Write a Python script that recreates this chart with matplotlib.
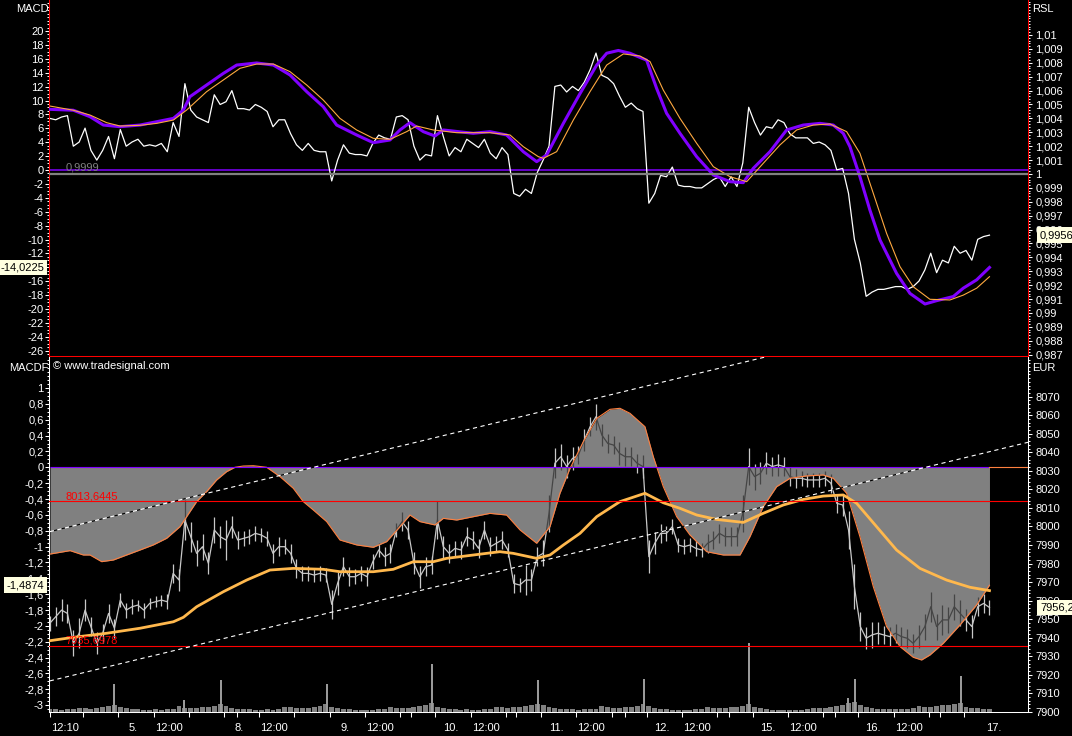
import numpy as np
import matplotlib
matplotlib.use("Agg")
import matplotlib.pyplot as plt
import matplotlib.transforms as mtransforms
from matplotlib.ticker import FixedLocator, MultipleLocator, FuncFormatter

plt.rcParams['font.family'] = ['Liberation Sans', 'DejaVu Sans']
plt.rcParams['font.size'] = 8
plt.rcParams['lines.scale_dashes'] = False

# time axis: trading hours counted from the 4th 09:00, 9 hours per session
t_first = 3.17          # 4th, 12:10
t_step = 0.5
n_bars = 161

# RSL (white line, right axis of the upper pane)
rsl = [1.0040, 1.0039, 1.0041, 1.0042, 1.0020, 1.0023, 1.0033, 1.0017, 1.0010, 1.0017,
       1.0027, 1.0011, 1.0032, 1.0020, 1.0023, 1.0025, 1.0020, 1.0021, 1.0020, 1.0022,
       1.0016, 1.0037, 1.0027, 1.0065, 1.0046, 1.0041, 1.0039, 1.0037, 1.0057, 1.0050,
       1.0052, 1.0060, 1.0047, 1.0047, 1.0046, 1.0050, 1.0048, 1.0045, 1.0034, 1.0039,
       1.0039, 1.0029, 1.0021, 1.0017, 1.0022, 1.0017, 1.0016, 1.0016, 0.9995, 1.0010,
       1.0021, 1.0015, 1.0014, 1.0014, 1.0013, 1.0022, 1.0028, 1.0026, 1.0025, 1.0041,
       1.0042, 1.0039, 1.0020, 1.0010, 1.0014, 1.0013, 1.0042, 1.0027, 1.0013, 1.0019,
       1.0016, 1.0025, 1.0022, 1.0019, 1.0025, 1.0015, 1.0011, 1.0019, 1.0014, 0.9986,
       0.9984, 0.9989, 0.9986, 1.0001,
       1.0010, 1.0020, 1.0063, 1.0064, 1.0059, 1.0063, 1.0060, 1.0066, 1.0075, 1.0087,
       1.0071, 1.0069, 1.0065, 1.0056, 1.0048, 1.0051, 1.0047, 1.0045, 0.9979, 0.9986,
       0.9999, 0.9998, 1.0005, 0.9992, 0.9991, 0.9991, 0.9990, 0.9990, 0.9993, 0.9996,
       0.9998, 0.9991, 0.9998, 0.9991, 1.0008, 1.0048, 1.0037, 1.0028, 1.0034, 1.0033,
       1.0039, 1.0037, 1.0029, 1.0026, 1.0026, 1.0026, 1.0022, 1.0023, 1.0021, 1.0017,
       1.0003, 1.0004, 0.9986, 0.9953, 0.9936, 0.9912, 0.9915, 0.9917, 0.9917, 0.9918,
       0.9919, 0.9919, 0.9917, 0.9919, 0.9923, 0.9931, 0.9943, 0.9929, 0.9938, 0.9936,
       0.9948, 0.9943, 0.9945, 0.9938, 0.9953, 0.9955, 0.9956]

# MACD and signal (left axis of the upper pane)
macd_t = [3.19, 5.17, 6.59, 7.73, 9.14, 10.85, 12.27, 13.69, 14.54, 15.1,
          16.52, 17.94, 19.08, 20.78, 22.2, 23.62, 25.04, 26.45, 27.59, 29.29,
          30.71, 32.13, 32.98, 33.83, 34.97, 35.96, 36.67, 39.22, 40.64, 42.06,
          43.48, 44.62, 45.47, 46.89, 48.31, 49.73, 50.58, 51.57, 52.56, 53.98,
          54.83, 55.68, 56.82, 58.24, 59.66, 61.08, 62.21, 63.06, 64.48, 65.9,
          67.32, 68.74, 69.87, 70.72, 71.29, 72.14, 72.99, 73.85, 75.26, 76.4,
          77.68, 78.67, 80.09, 80.94, 82.08, 83.17]
macd = [8.73, 8.6, 7.67, 6.47, 6.23, 6.47, 6.95, 7.43, 8.63, 10.55,
        12.23, 13.9, 15.1, 15.4, 15.1, 13.67, 11.27, 9.11, 6.47, 5.04,
        3.93, 4.32, 5.76, 6.81, 5.52, 4.89, 5.76, 5.28, 5.52, 5.04,
        2.64, 1.2, 2.16, 6.71, 11.0, 15.1, 16.8, 17.2, 16.8, 15.8,
        11.75, 8.16, 5.28, 1.92, -0.72, -1.68, -1.82, 0.24, 2.64, 5.76,
        6.47, 6.71, 6.47, 5.28, 3.36, -0.96, -5.76, -10.07, -14.87, -17.75,
        -19.28, -18.8, -18.2, -17.0, -15.8, -14.0225]
signal_t = [3.19, 5.17, 6.59, 8.01, 9.14, 10.85, 12.27, 13.69, 14.82, 16.52,
            17.94, 19.36, 20.78, 22.2, 23.62, 25.04, 26.45, 27.87, 29.29, 30.71,
            32.13, 33.55, 34.4, 35.82, 37.81, 40.64, 42.35, 43.48, 44.76, 45.19,
            46.32, 47.74, 49.16, 50.58, 52.0, 53.41, 54.27, 55.4, 56.82, 58.24,
            59.66, 61.08, 62.5, 63.91, 65.33, 66.75, 68.17, 69.59, 71.01, 72.14,
            73.28, 74.41, 75.55, 76.68, 78.1, 79.8, 80.94, 82.08, 83.17]
signal = [9.2, 8.6, 7.91, 6.81, 6.33, 6.43, 6.71, 7.19, 8.63, 11.27,
          12.95, 14.63, 15.25, 15.25, 14.15, 12.23, 10.07, 7.43, 5.76, 4.56,
          4.41, 5.52, 6.33, 5.76, 5.37, 5.37, 5.04, 3.36, 1.92, 1.68,
          2.64, 7.19, 11.27, 15.1, 16.7, 16.4, 15.6, 11.5, 7.43, 3.84,
          0.48, -0.96, -1.68, 0.96, 3.6, 5.76, 6.47, 6.62, 5.52, 2.4,
          -3.36, -9.11, -13.9, -16.8, -18.6, -18.7, -18.0, -17.0, -15.35]

# price in EUR (lower pane, right axis) and high-low range of each half hour
price = [7947.8, 7951.3, 7954.9, 7953.1, 7937.0, 7942.4, 7954.9, 7946.0, 7937.0, 7942.4,
         7953.1, 7945.1, 7960.3, 7954.9, 7956.7, 7957.6, 7954.9, 7958.5, 7959.4, 7960.3,
         7959.4, 7974.7, 7971.1, 8003.5, 7994.5, 7985.5, 7989.1, 7980.1, 7998.1, 7994.5,
         7992.7, 7999.9, 7992.7, 7993.6, 7994.5, 7996.3, 7995.4, 7993.6, 7985.5, 7989.1,
         7989.1, 7985.5, 7977.4, 7974.7, 7974.7, 7973.8, 7974.7, 7973.8, 7958.0, 7969.3,
         7978.3, 7972.9, 7972.9, 7974.7, 7972.9, 7981.0, 7987.3, 7983.7, 7985.5, 7998.1,
         8002.6, 7998.1, 7980.1, 7972.9, 7978.3, 7979.2, 8003.5, 7989.1, 7985.5, 7988.2,
         7987.3, 7994.5, 7992.7, 7988.2, 7998.1, 7989.1, 7990.9, 7992.7, 7987.3, 7969.3,
         7968.4, 7971.1, 7971.1, 7983.7,
         7985.5, 8007.1, 8034.1, 8037.6, 8032.3, 8036.7, 8038.5, 8046.6, 8053.8, 8059.2,
         8049.3, 8044.8, 8043.9, 8039.4, 8037.6, 8037.6, 8034.1, 8032.3, 7983.7, 7990.9,
         7996.3, 7996.3, 7999.9, 7990.0, 7989.1, 7990.0, 7988.2, 7987.3, 7990.9, 7992.7,
         7996.3, 7994.5, 7994.5, 7994.5, 8007.1, 8032.3, 8026.9, 8028.7, 8034.1, 8032.3,
         8033.2, 8032.3, 8026.9, 8026.0, 8026.0, 8025.1, 8025.1, 8025.1, 8026.0, 8023.3,
         8012.5, 8011.6, 7998.1, 7967.5, 7946.0, 7939.7, 7941.5, 7942.4, 7941.5, 7940.6,
         7942.4, 7940.6, 7939.7, 7937.0, 7940.6, 7946.0, 7956.7, 7946.0, 7949.6, 7949.6,
         7956.7, 7953.1, 7949.6, 7946.0, 7956.7, 7958.5, 7956.28]
price_range = [8, 10, 12, 10, 14, 16, 12, 10, 12, 10, 10, 10,
               8, 8, 8, 6, 8, 6, 6, 6, 8, 10, 12, 22,
               16, 14, 14, 12, 14, 12, 22, 12, 10, 8, 8, 8,
               8, 8, 10, 10, 8, 10, 10, 8, 8, 8, 8, 8,
               16, 12, 10, 10, 8, 8, 10, 8, 8, 10, 10, 8,
               10, 10, 12, 12, 10, 10, 20, 12, 10, 8, 10, 10,
               10, 10, 10, 10, 8, 10, 8, 10, 8, 16, 12, 10,
               14, 20, 16, 14, 12, 12, 10, 12, 10, 14, 12, 10,
               10, 12, 10, 10, 10, 12, 18, 12, 10, 8, 8, 8,
               8, 8, 8, 8, 10, 10, 10, 10, 10, 10, 20, 20,
               14, 12, 12, 10, 12, 10, 10, 10, 8, 8, 8, 8,
               8, 10, 10, 12, 20, 24, 16, 12, 14, 12, 10, 10,
               10, 10, 10, 10, 12, 14, 16, 14, 16, 14, 14, 14,
               12, 12, 10, 10, 8]

# moving average of the price
ma_t = [3.19, 5.17, 8.01, 10.85, 13.69, 14.54, 15.67, 17.94, 19.93, 21.91,
        23.9, 26.45, 27.87, 30.71, 32.41, 34.12, 35.82, 36.95, 39.22, 41.49,
        42.63, 44.62, 45.75, 46.89, 48.31, 49.73, 51.71, 53.84, 55.4, 56.82,
        58.24, 59.94, 62.21, 63.91, 65.62, 67.32, 69.02, 70.72, 71.86, 73.56,
        75.26, 77.25, 79.52, 81.51, 83.17]
ma = [7938.4, 7940.2, 7942.4, 7945.1, 7948.6, 7951.0, 7956.7, 7964.8, 7971.1, 7976.5,
      7977.4, 7976.9, 7975.6, 7975.6, 7976.9, 7981.0, 7981.0, 7982.8, 7984.6, 7986.4,
      7985.5, 7982.8, 7984.6, 7990.0, 7996.3, 8005.3, 8013.4, 8017.9, 8012.8, 8009.8,
      8006.2, 8003.8, 8002.2, 8007.1, 8011.6, 8014.6, 8016.4, 8017.0, 8012.5, 7999.9,
      7987.3, 7977.4, 7971.1, 7967.2, 7965.4]

# MACDF (lower pane, left axis)
macdf_t = [3.19, 4.89, 6.02, 6.59, 7.58, 8.58, 9.71, 10.85, 11.98, 13.12,
           14.25, 14.82, 15.67, 16.52, 17.37, 18.22, 18.93, 19.64, 20.5, 21.63,
           22.77, 23.9, 24.75, 25.6, 26.74, 27.87, 29.29, 30.71, 31.85, 32.98,
           33.83, 34.68, 35.96, 36.67, 37.81, 39.22, 40.64, 42.06, 43.2, 44.62,
           45.75, 46.6, 47.46, 48.59, 49.73, 50.86, 51.71, 52.56, 53.84, 54.55,
           55.4, 56.54, 57.67, 59.09, 60.51, 61.93, 62.78, 63.91, 65.05, 66.18,
           67.6, 69.02, 69.87, 71.01, 72.14, 73.28, 74.41, 75.55, 76.68, 77.39,
           78.1, 79.24, 80.66, 82.08, 83.17]
macdf = [-1.094, -1.051, -1.106, -1.106, -1.19, -1.169, -1.106, -1.043, -0.979, -0.895,
         -0.749, -0.623, -0.433, -0.307, -0.16, -0.055, 0.0, 0.016, 0.02, 0.0,
         -0.118, -0.265, -0.433, -0.538, -0.685, -0.917, -0.979, -1.009, -0.937, -0.749,
         -0.602, -0.685, -0.727, -0.644, -0.665, -0.623, -0.581, -0.602, -0.79, -0.958,
         -0.749, -0.328, -0.013, 0.323, 0.617, 0.731, 0.744, 0.681, 0.512, 0.134,
         -0.244, -0.623, -0.853, -1.064, -1.106, -1.106, -0.874, -0.496, -0.244, -0.139,
         -0.109, -0.097, -0.139, -0.328, -0.874, -1.505, -2.009, -2.261, -2.396, -2.43,
         -2.367, -2.219, -1.988, -1.736, -1.4874]

# volume per half hour and auction prints
volume = [350, 300, 250, 300, 350, 450, 400, 350, 450, 500, 600, 750,
          550, 400, 300, 300, 250, 250, 300, 250, 300, 350, 600, 450, 400, 450, 500, 550, 650, 850,
          600, 450, 350, 300, 300, 250, 250, 300, 250, 300, 550, 500, 400, 400, 450, 500, 600, 800,
          500, 400, 350, 300, 250, 250, 200, 250, 300, 300, 500, 450, 400, 450, 550, 600, 700, 900,
          550, 400, 300, 300, 250, 300, 250, 250, 300, 350, 550, 500, 450, 500, 550, 600, 700, 850,
          700, 500, 400, 350, 300, 300, 250, 300, 300, 350, 600, 500, 450, 450, 500, 550, 650, 850,
          600, 450, 350, 300, 250, 250, 250, 250, 300, 300, 500, 450, 400, 450, 500, 550, 600, 800,
          500, 400, 300, 250, 250, 200, 200, 250, 250, 300, 450, 450, 400, 500, 600, 750, 900, 1000,
          700, 500, 400, 350, 300, 300, 300, 350, 350, 400, 600, 550, 500, 600, 700, 750, 800, 900,
          550, 450, 400, 350, 300]
spike_t = [8.63, 14.6, 17.74, 26.74, 35.68, 44.72, 53.76, 62.7, 71.15, 71.72, 80.74]
spike_v = [2770, 1200, 3200, 2800, 4800, 3200, 3300, 6900, 1400, 3300, 3600]

# trend channel and price levels
trend_t = [3.17, 86.45]
trend_upper = [7997.2, 8126.0]
trend_lower = [7916.7, 8045.4]
level_high = 8013.6445
level_low = 7935.6978
rsl_ref = 0.9999

xtick_t = [3.17, 6.0, 9.0, 12.0, 15.0, 18.0, 19.08, 21.0, 24.0, 27.0, 30.0, 33.0, 33.9,
           36.0, 39.0, 42.0, 42.9, 45.0, 48.0, 51.0, 52.1, 54.0, 57.0, 60.0, 61.0, 63.0,
           66.0, 69.0, 70.0, 72.0, 75.0, 78.0, 79.0, 81.0]
xlabels = [("12:10", 3.17), ("5.", 9.0), ("12:00", 12.0), ("8.", 18.0), ("12:00", 21.0),
           ("9.", 27.0), ("12:00", 30.0), ("10.", 36.0), ("12:00", 39.0), ("11.", 45.0),
           ("12:00", 48.0), ("12.", 54.0), ("12:00", 57.0), ("15.", 63.0), ("12:00", 66.0),
           ("16.", 72.0), ("12:00", 75.0), ("17.", 81.0)]

t = t_first + t_step * np.arange(n_bars)
price_a = np.array(price)
half = np.array(price_range) / 2.0


def comma(v, pos=None):
    if abs(v) < 1e-9:
        return "0"
    s = f"{v:.4f}".rstrip("0").rstrip(".")
    return s.replace(".", ",")


PURPLE = "#8000ff"
RED = "#ff0000"

fig = plt.figure(figsize=(10.72, 7.36), dpi=100, facecolor="black")
L, W = 49 / 1072, 979 / 1072
ax_t = fig.add_axes([L, 380 / 736, W, 356 / 736], facecolor="black")
ax_r = ax_t.twinx()
ax_b = fig.add_axes([L, 24 / 736, W, 355 / 736], facecolor="black")
ax_v = ax_b.twinx()
ax_e = ax_b.twinx()
ax_v.set_zorder(ax_b.get_zorder() - 1)
ax_b.patch.set_visible(False)
ax_v.axis("off")

for a in (ax_t, ax_b):
    a.set_xlim(3.10, 86.45)
ax_t.set_ylim(-26.76, 24.46)
ax_r.set_ylim(0.986906, 1.012518)
ax_b.set_ylim(-3.0858, 1.3909)
ax_e.set_ylim(7899.93, 8091.41)
ax_v.set_ylim(0, 35500)

for a in (ax_t, ax_r, ax_b, ax_e):
    for s in a.spines.values():
        s.set_visible(False)
        s.set_linewidth(0.75)
for side in ("left", "bottom"):
    ax_t.spines[side].set_visible(True)
    ax_t.spines[side].set_color(RED)
    ax_b.spines[side].set_visible(True)
    ax_b.spines[side].set_color("white")
ax_r.spines["right"].set_visible(True)
ax_r.spines["right"].set_color(RED)
ax_e.spines["right"].set_visible(True)
ax_e.spines["right"].set_color("white")

# axis ticks
ax_t.yaxis.set_major_locator(FixedLocator(np.arange(-26, 21, 2)))
ax_t.yaxis.set_minor_locator(MultipleLocator(0.5))
ax_r.yaxis.set_major_locator(FixedLocator(np.round(np.arange(0.987, 1.0105, 0.001), 3)))
ax_r.yaxis.set_minor_locator(MultipleLocator(0.0002))
ax_b.yaxis.set_major_locator(FixedLocator(np.round(np.arange(-3.0, 1.01, 0.2), 1)))
ax_b.yaxis.set_minor_locator(MultipleLocator(0.05))
ax_e.yaxis.set_major_locator(FixedLocator(np.arange(7900, 8071, 10)))
ax_e.yaxis.set_minor_locator(MultipleLocator(2))
for a, pad in ((ax_t, 1.0), (ax_r, 2.5), (ax_b, 1.0), (ax_e, 2.5)):
    a.yaxis.set_major_formatter(FuncFormatter(comma))
    a.tick_params(axis="y", which="major", length=2.9, width=0.75, colors="white",
                  labelsize=8, pad=pad)
    a.tick_params(axis="y", which="minor", length=1.5, width=0.75, colors="white")
ax_t.tick_params(axis="x", which="both", bottom=False, labelbottom=False)
ax_b.set_xticks(xtick_t)
ax_b.tick_params(axis="x", which="major", length=3.6, width=0.75, colors="white",
                 labelbottom=False)

# upper pane
ax_t.axhline(0, color=PURPLE, lw=1.1, zorder=1)
ax_r.axhline(1.0, color="#808080", lw=1.6, zorder=1)
ax_t.plot(t, rsl, color="white", lw=0.9, transform=ax_r.transData, zorder=2)
ax_t.plot(macd_t, macd, color=PURPLE, lw=2.2, zorder=3)
ax_t.plot(signal_t, signal, color="#ffa940", lw=0.8, zorder=4)

# lower pane
ax_v.bar(t, volume, width=0.42, color="#808080", lw=0)
ax_v.bar(spike_t, spike_v, width=0.15, color="#9a9a9a", lw=0)

light = [ax_b.vlines(t, price_a - half, price_a + half, color="#c8c8c8", lw=0.9,
                     transform=ax_e.transData, zorder=2),
         ax_b.plot(t, price, color="#c8c8c8", lw=0.9, transform=ax_e.transData, zorder=2)[0]]
fill = ax_b.fill_between(macdf_t, macdf, 0, color="#808080", lw=0, zorder=3)
clip = (fill.get_paths()[0], fill.get_transform())
dark_bars = ax_b.vlines(t, price_a - half, price_a + half, color="#454545", lw=0.9,
                        transform=ax_e.transData, zorder=3.5)
dark_line, = ax_b.plot(t, price, color="#454545", lw=0.9, transform=ax_e.transData,
                       zorder=3.5)
for art in (dark_bars, dark_line):
    art.set_clip_path(*clip)
ax_b.plot(macdf_t, macdf, color="#ff8040", lw=0.8, zorder=4)
ax_b.hlines(0, macdf_t[0], macdf_t[-1], color=PURPLE, lw=0.8, zorder=4)
x_end = (macdf_t[-1] - 3.10) / (86.45 - 3.10)
ax_b.axhline(0, xmin=x_end, color="#ff8040", lw=0.8, zorder=4)
ax_b.plot(ma_t, ma, color="#ffb84d", lw=2.0, transform=ax_e.transData, zorder=5)

ax_e.axhline(level_high, color=RED, lw=0.8)
ax_e.axhline(level_low, color=RED, lw=0.8)
for tl in (trend_upper, trend_lower):
    ax_e.plot(trend_t, tl, color="white", lw=0.8, dashes=(3.0, 2.6), gapcolor="black")

lvl_tr = mtransforms.offset_copy(
    mtransforms.blended_transform_factory(ax_e.transAxes, ax_e.transData),
    fig=fig, x=0, y=2, units="dots")
for lv in (level_high, level_low):
    ax_e.text(16 / 979, lv, comma(lv), color=RED, fontsize=8, transform=lvl_tr,
              va="baseline", ha="left")

ref_tr = mtransforms.offset_copy(
    mtransforms.blended_transform_factory(ax_r.transAxes, ax_r.transData),
    fig=fig, x=0, y=3, units="dots")
ax_r.text(17 / 979, 1.0, comma(rsl_ref), color="#808080", fontsize=8,
          transform=ref_tr, va="baseline", ha="left")

# last-value boxes on the axes
box = dict(boxstyle="square,pad=0.25", fc="#ffffe0", ec="none")
ax_t.text(-5 / 979, macd[-1], comma(macd[-1]), color="black", fontsize=8, ha="right",
          va="center", bbox=box, zorder=10, clip_on=False,
          transform=mtransforms.blended_transform_factory(ax_t.transAxes, ax_t.transData))
ax_r.text(1 + 12 / 979, rsl[-1], comma(rsl[-1]), color="black", fontsize=8, ha="left",
          va="center", bbox=box, zorder=10, clip_on=False,
          transform=mtransforms.blended_transform_factory(ax_r.transAxes, ax_r.transData))
ax_b.text(-5 / 979, macdf[-1], comma(macdf[-1]), color="black", fontsize=8, ha="right",
          va="center", bbox=box, zorder=10, clip_on=False,
          transform=mtransforms.blended_transform_factory(ax_b.transAxes, ax_b.transData))
ax_e.text(1 + 12 / 979, price[-1], comma(price[-1]), color="black", fontsize=8, ha="left",
          va="center", bbox=box, zorder=10, clip_on=False,
          transform=mtransforms.blended_transform_factory(ax_e.transAxes, ax_e.transData))

# time labels under the lower pane
base = mtransforms.blended_transform_factory(ax_b.transData, ax_b.transAxes)
for lab, tx in xlabels:
    dx = 30 if lab == "17." else 15
    ax_b.text(tx, 0, lab, color="white", fontsize=8, ha="center", va="top", clip_on=False,
              transform=mtransforms.offset_copy(base, fig=fig, x=dx, y=-11, units="dots"))

# pane titles
fig.text(16 / 1072, 1 - 4 / 736, "MACD", color="white", fontsize=8, va="top", ha="left")
fig.text(1032 / 1072, 1 - 4 / 736, "RSL", color="white", fontsize=8, va="top", ha="left")
fig.text(9 / 1072, 1 - 363 / 736, "MACDF", color="white", fontsize=8, va="top", ha="left")
fig.text(1032 / 1072, 1 - 363 / 736, "EUR", color="white", fontsize=8, va="top", ha="left")
fig.text(53 / 1072, 1 - 361 / 736, "\u00a9 www.tradesignal.com", color="white",
         fontsize=8, va="top", ha="left")

fig.savefig("out.png", dpi=100, facecolor="black")
